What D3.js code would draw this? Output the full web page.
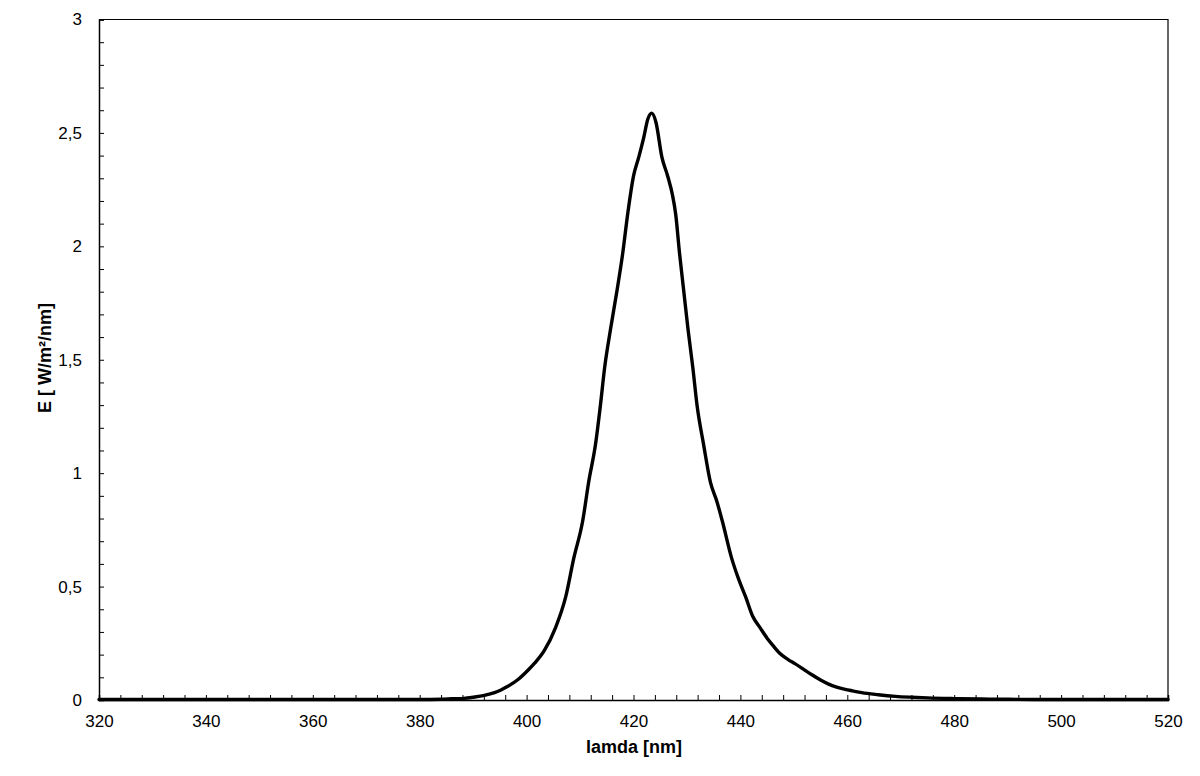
<!DOCTYPE html>
<html><head><meta charset="utf-8">
<script src="https://cdn.jsdelivr.net/npm/d3@7"></script>
<style>
body{margin:0;background:#fff}
svg{display:block}
text{font-family:"Liberation Sans",Arial,sans-serif;fill:#000}
</style>
</head><body>
<svg id="chart" width="1200" height="776"></svg>
<script>
// ---- data ----
const wavelength = [320, 350, 380, 384, 386, 388.3, 390, 392.1, 394, 395.2, 396.5, 398.4, 400.3, 401.5, 403.3, 405.4, 407.3, 408.8, 410.5, 411.6, 412.9, 413.8, 414.6, 415.7, 416.9, 418.0, 418.9, 420.0, 421.0, 421.9, 422.7, 423.4, 424.2, 425.3, 426.4, 427.3, 427.9, 428.6, 429.4, 430.2, 431.1, 431.9, 433.1, 434.4, 435.6, 436.6, 438.4, 439.6, 441.0, 442.3, 443.7, 445.0, 446.2, 447.3, 449.0, 450.2, 451.7, 453.3, 455.0, 456.5, 458.0, 459.6, 461.0, 462.7, 465.8, 469.0, 472.0, 475.0, 480.0, 485.0, 490.0, 495.0, 520];
const irradiance = [0, 0, 0, 0.001, 0.003, 0.005, 0.010, 0.018, 0.030, 0.042, 0.058, 0.088, 0.130, 0.160, 0.215, 0.316, 0.451, 0.620, 0.788, 0.957, 1.126, 1.295, 1.463, 1.632, 1.801, 1.970, 2.138, 2.307, 2.392, 2.476, 2.560, 2.585, 2.545, 2.392, 2.307, 2.223, 2.138, 1.970, 1.801, 1.632, 1.463, 1.295, 1.126, 0.957, 0.873, 0.788, 0.620, 0.535, 0.451, 0.367, 0.316, 0.270, 0.235, 0.205, 0.175, 0.158, 0.135, 0.110, 0.086, 0.068, 0.055, 0.045, 0.038, 0.030, 0.021, 0.014, 0.010, 0.007, 0.004, 0.002, 0.001, 0, 0];
const xTickLabels = [320, 340, 360, 380, 400, 420, 440, 460, 480, 500, 520];
const yTickLabels = [0, 0.5, 1, 1.5, 2, 2.5, 3];
const xTitle = "lamda [nm]";
const yTitle = "E [ W/m²/nm]";

// ---- layout ----
const plotL = 99, plotR = 1168, plotT = 19.5, plotB = 700;
const svg = d3.select("#chart");
const x = d3.scaleLinear().domain([320, 520]).range([plotL, plotR]);
const y = d3.scaleLinear().domain([0, 3]).range([plotB, plotT]);

// frame (top and right)
svg.append("path")
  .attr("d", `M${plotL},${plotT}H${plotR}V${plotB}`)
  .attr("fill", "none").attr("stroke", "#000").attr("stroke-width", 1.2);

// minor inward ticks
const yMinor = d3.axisLeft(y).tickValues(d3.range(0, 31).map(i => i / 10)).tickSize(-5).tickFormat("");
const gyMinor = svg.append("g").attr("transform", `translate(${plotL},0)`).call(yMinor);
gyMinor.select(".domain").attr("stroke-width", 1.5);
gyMinor.selectAll(".tick line").attr("stroke-width", 1);

const xMinor = d3.axisBottom(x).tickValues(d3.range(0, 51).map(i => 320 + i * 4)).tickSize(-5).tickFormat("");
const gxMinor = svg.append("g").attr("transform", `translate(0,${plotB})`).call(xMinor);
gxMinor.select(".domain").attr("stroke-width", 1.5);
gxMinor.selectAll(".tick line").attr("stroke-width", 1);

// labels
const yLab = d3.axisLeft(y).tickValues(yTickLabels).tickSize(0).tickPadding(17)
  .tickFormat(v => String(v).replace(".", ","));
const gyLab = svg.append("g").attr("transform", `translate(${plotL},0)`).call(yLab);
gyLab.select(".domain").remove();
gyLab.selectAll("text").attr("font-size", 17).attr("font-family", "'Liberation Sans',Arial,sans-serif").attr("fill", "#000");

const xLab = d3.axisBottom(x).tickValues(xTickLabels).tickSize(0).tickPadding(15).tickFormat(d3.format("d"));
const gxLab = svg.append("g").attr("transform", `translate(0,${plotB})`).call(xLab);
gxLab.select(".domain").remove();
gxLab.selectAll("text").attr("font-size", 17).attr("font-family", "'Liberation Sans',Arial,sans-serif").attr("fill", "#000");

// titles
svg.append("text").attr("x", 634).attr("y", 753).attr("text-anchor", "middle")
  .attr("font-size", 18).attr("font-weight", "bold").text(xTitle);
svg.append("text").attr("transform", "translate(51,358) rotate(-90)").attr("text-anchor", "middle")
  .attr("font-size", 18).attr("font-weight", "bold").text(yTitle);

// curve
const pts = wavelength.map((w, i) => [w, irradiance[i]]);
const line = d3.line().x(d => x(d[0])).y(d => y(d[1]) - 0.5).curve(d3.curveMonotoneX);
svg.append("path").datum(pts).attr("d", line)
  .attr("fill", "none").attr("stroke", "#000").attr("stroke-width", 3.4)
  .attr("stroke-linejoin", "round").attr("stroke-linecap", "round");
</script>
</body></html>
